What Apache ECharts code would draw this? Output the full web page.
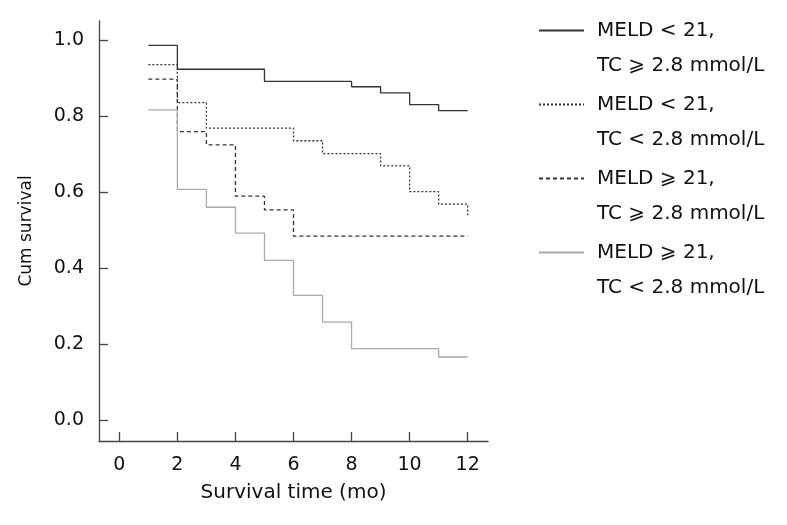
<!DOCTYPE html>
<html>
<head>
<meta charset="utf-8">
<style>
  html, body { margin: 0; padding: 0; background: #fff; }
  #chart { width: 787px; height: 525px; }
</style>
<script src="https://cdn.jsdelivr.net/npm/echarts@6/dist/echarts.min.js"></script>
</head>
<body>
<div id="chart"></div>
<script>
// Kaplan-Meier curves (time in months, cum survival)
const groupNames = [
  'MELD < 21, TC ⩾ 2.8 mmol/L',
  'MELD < 21, TC < 2.8 mmol/L',
  'MELD ⩾ 21, TC ⩾ 2.8 mmol/L',
  'MELD ⩾ 21, TC < 2.8 mmol/L'
]
const timeA = [1, 2, 5, 8, 9, 10, 11, 12]
const survA = [0.986, 0.923, 0.891, 0.877, 0.861, 0.830, 0.814, 0.814]
const timeB = [1, 2, 3, 6, 7, 9, 10, 11, 12]
const survB = [0.935, 0.835, 0.768, 0.735, 0.701, 0.669, 0.601, 0.568, 0.539]
const timeC = [1, 2, 3, 4, 5, 6, 12]
const survC = [0.897, 0.759, 0.724, 0.589, 0.553, 0.484, 0.484]
const timeD = [1, 2, 3, 4, 5, 6, 7, 8, 11, 12]
const survD = [0.816, 0.607, 0.560, 0.492, 0.420, 0.328, 0.258, 0.188, 0.166, 0.166]
const xTicks = [0, 2, 4, 6, 8, 10, 12]
const yTicks = [0, 0.2, 0.4, 0.6, 0.8, 1.0]

const font = 'DejaVu Sans'
const axisColor = '#444'

function pairs(t, s) {
  return t.map((x, i) => [x, s[i]])
}

function kmSeries(name, t, s, color, type) {
  return {
    name: name,
    type: 'line',
    step: 'end',
    symbol: 'none',
    data: pairs(t, s),
    lineStyle: { color: color, width: 1.3, type: type },
    itemStyle: { color: color },
    emphasis: { disabled: true }
  }
}

const chart = echarts.init(document.getElementById('chart'))
chart.setOption({
  animation: false,
  backgroundColor: '#fff',
  textStyle: { fontFamily: font },
  grid: { left: 99, right: 299, top: 21, bottom: 84 },
  legend: {
    orient: 'vertical',
    left: 538,
    top: -22,
    padding: 0,
    itemGap: -31,
    itemWidth: 45,
    itemHeight: 10,
    data: groupNames,
    itemStyle: { opacity: 0 },
    // blank first line so the sample line sits beside the first text line
    formatter: (n) => '\n' + n.replace(', ', ',\n'),
    textStyle: {
      fontFamily: font,
      fontSize: 20,
      color: '#111',
      lineHeight: 35,
      padding: [0, 0, 0, 8]
    }
  },
  xAxis: {
    type: 'value',
    min: -0.7,
    max: 12.7,
    name: 'Survival time (mo)',
    nameLocation: 'middle',
    nameGap: 42,
    nameTextStyle: { fontFamily: font, fontSize: 20, color: '#111' },
    axisLine: { onZero: false, lineStyle: { color: axisColor, width: 1.3 } },
    axisTick: { inside: true, length: 9, customValues: xTicks, lineStyle: { color: axisColor, width: 1.3 } },
    axisLabel: { customValues: xTicks, margin: 15, fontFamily: font, fontSize: 19, color: '#111' },
    splitLine: { show: false }
  },
  yAxis: {
    type: 'value',
    min: -0.055,
    max: 1.05,
    name: 'Cum survival',
    nameLocation: 'middle',
    nameGap: 64,
    nameTextStyle: { fontFamily: font, fontSize: 17, color: '#111' },
    axisLine: { onZero: false, lineStyle: { color: axisColor, width: 1.3 } },
    axisTick: { inside: true, length: 9, customValues: yTicks, lineStyle: { color: axisColor, width: 1.3 } },
    axisLabel: {
      customValues: yTicks,
      margin: 15,
      fontFamily: font,
      fontSize: 19,
      color: '#111',
      formatter: (v) => v.toFixed(1)
    },
    splitLine: { show: false }
  },
  series: [
    kmSeries(groupNames[0], timeA, survA, '#333', 'solid'),
    kmSeries(groupNames[1], timeB, survB, '#333', [2, 2]),
    kmSeries(groupNames[2], timeC, survC, '#333', [4, 3]),
    kmSeries(groupNames[3], timeD, survD, '#aaa', 'solid')
  ]
})
</script>
</body>
</html>
